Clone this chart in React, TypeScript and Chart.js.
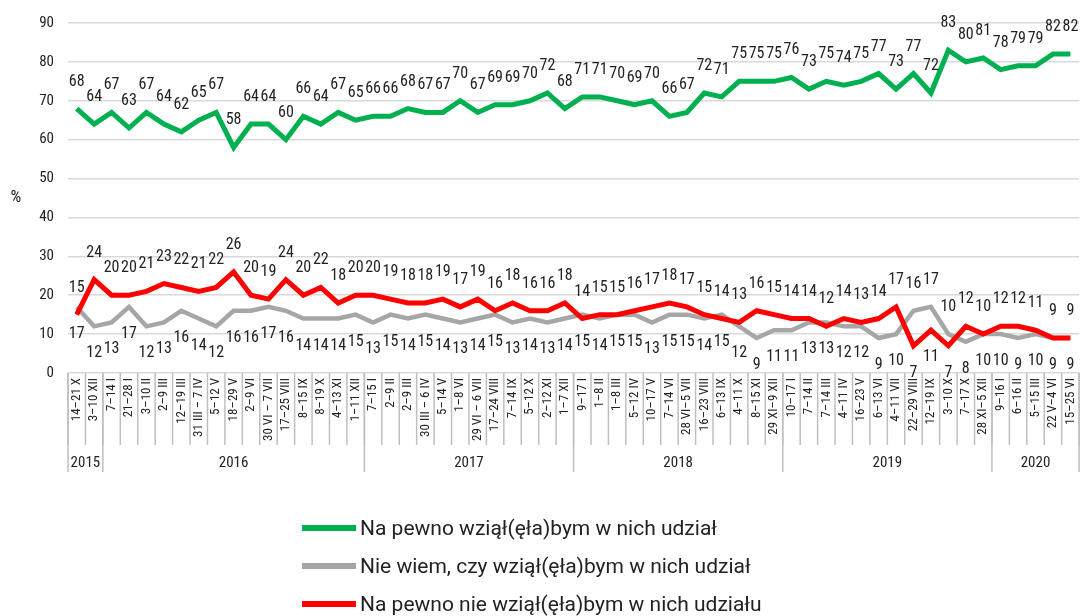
import React, { useEffect, useRef } from "react";
import { Chart, registerables } from "chart.js";

Chart.register(...registerables);

const categories = [
  "14–21 X", "3–10 XII",
  "7–14 I", "21–28 I", "3–10 II", "2–9 III", "12–19 III", "31 III – 7 IV", "5–12 V", "18–29 V", "2–9 VI", "30 VI – 7 VII", "17–25 VIII", "8–15 IX", "8–19 X", "4–13 XI", "1–11 XII",
  "7–15 I", "2–9 II", "2–9 III", "30 III – 6 IV", "5–14 V", "1–8 VI", "29 VI – 6 VII", "17–24 VIII", "7–14 IX", "5–12 X", "2–12 XI", "1–7 XII",
  "9–17 I", "1–8 II", "1–8 III", "5–12 IV", "10–17 V", "7–14 VI", "28 VI–5 VII", "16–23 VIII", "6–13 IX", "4–11 X", "8–15 XI", "29 XI–9 XII",
  "10–17 I", "7–14 II", "7–14 III", "4–11 IV", "16–23 V", "6–13 VI", "4–11 VII", "22–29 VIII", "12–19 IX", "3–10 X", "7–17 X", "28 XI–5 XII",
  "9–16 I", "6–16 II", "5–15 III", "22 V–4 VI", "15–25 VI",
];

const years = ["2015", "2016", "2017", "2018", "2019", "2020"];
const yearCounts = [2, 15, 12, 12, 12, 5];

const definitelyYes = [
  68, 64, 67, 63, 67, 64, 62, 65, 67, 58,
  64, 64, 60, 66, 64, 67, 65, 66, 66, 68,
  67, 67, 70, 67, 69, 69, 70, 72, 68, 71,
  71, 70, 69, 70, 66, 67, 72, 71, 75, 75,
  75, 76, 73, 75, 74, 75, 77, 73, 77, 72,
  83, 80, 81, 78, 79, 79, 82, 82,
];

const dontKnow = [
  17, 12, 13, 17, 12, 13, 16, 14, 12, 16,
  16, 17, 16, 14, 14, 14, 15, 13, 15, 14,
  15, 14, 13, 14, 15, 13, 14, 13, 14, 15,
  14, 15, 15, 13, 15, 15, 14, 15, 12, 9,
  11, 11, 13, 13, 12, 12, 9, 10, 16, 17,
  10, 8, 10, 10, 9, 10, 9, 9,
];

const definitelyNo = [
  15, 24, 20, 20, 21, 23, 22, 21, 22, 26,
  20, 19, 24, 20, 22, 18, 20, 20, 19, 18,
  18, 19, 17, 19, 16, 18, 16, 16, 18, 14,
  15, 15, 16, 17, 18, 17, 15, 14, 13, 16,
  15, 14, 14, 12, 14, 13, 14, 17, 7, 11,
  7, 12, 10, 12, 12, 11, 9, 9,
];

const seriesNames = [
  "Na pewno wziął(ęła)bym w nich udział",
  "Nie wiem, czy wziął(ęła)bym w nich udział",
  "Na pewno nie wziął(ęła)bym w nich udziału",
];
const seriesColors = ["#00b050", "#a6a6a6", "#ff0000"];

const NARROW = '"Roboto Condensed", "Liberation Sans Narrow", "DejaVu Sans Condensed", Roboto, sans-serif';
const TEXT = "#222222";

const decorPlugin = {
  id: "decor",
  afterDatasetsDraw(chart: any) {
    const ctx = chart.ctx;
    ctx.save();
    ctx.font = `16px ${NARROW}`;
    ctx.fillStyle = TEXT;
    ctx.textAlign = "center";
    ctx.textBaseline = "middle";
    chart.data.datasets.forEach((ds: any, di: number) => {
      const meta = chart.getDatasetMeta(di);
      meta.data.forEach((pt: any, i: number) => {
        const swap = dontKnow[i] - definitelyNo[i] > 2;
        let dir = di === 1 ? 1 : -1;
        if (swap && di === 1) dir = -1;
        if (swap && di === 2) dir = 1;
        ctx.fillText(String(ds.data[i]), pt.x, pt.y + dir * 27);
      });
    });
    ctx.restore();
  },
  afterDraw(chart: any) {
    const { ctx, chartArea } = chart;
    const x = chart.scales.x;
    const n = categories.length;
    const step = x.getPixelForValue(1) - x.getPixelForValue(0);
    const edge = (i: number) => x.getPixelForValue(i) - step / 2;
    const bottom = chartArea.bottom;
    ctx.save();
    ctx.strokeStyle = "#bfbfbf";
    ctx.lineWidth = 1.5;
    for (let i = 0; i <= n; i++) {
      const xx = edge(i);
      ctx.beginPath();
      ctx.moveTo(xx, bottom);
      ctx.lineTo(xx, bottom + 72);
      ctx.stroke();
    }
    let acc = 0;
    ctx.font = `15px ${NARROW}`;
    ctx.fillStyle = TEXT;
    ctx.textAlign = "center";
    ctx.textBaseline = "middle";
    const sep = (xx: number) => {
      ctx.beginPath();
      ctx.moveTo(xx, bottom);
      ctx.lineTo(xx, bottom + 99);
      ctx.stroke();
    };
    sep(edge(0));
    years.forEach((yr, k) => {
      const a = edge(acc);
      acc += yearCounts[k];
      const b = edge(acc);
      sep(b);
      ctx.fillText(yr, (a + b) / 2, bottom + 90);
    });
    ctx.font = `17px ${NARROW}`;
    ctx.fillText("%", 16, (chartArea.top + chartArea.bottom) / 2);
    ctx.restore();
  },
};

export default function App() {
  const ref = useRef<HTMLCanvasElement | null>(null);
  useEffect(() => {
    document.body.style.margin = "0";
    const canvas = ref.current;
    if (!canvas) return;
    const chart = new Chart(canvas, {
      type: "line",
      data: {
        labels: categories,
        datasets: [
          { label: seriesNames[0], data: definitelyYes, borderColor: seriesColors[0], backgroundColor: seriesColors[0], borderWidth: 5, pointRadius: 0, tension: 0, order: 0 },
          { label: seriesNames[1], data: dontKnow, borderColor: seriesColors[1], backgroundColor: seriesColors[1], borderWidth: 4.5, pointRadius: 0, tension: 0, order: 2 },
          { label: seriesNames[2], data: definitelyNo, borderColor: seriesColors[2], backgroundColor: seriesColors[2], borderWidth: 5, pointRadius: 0, tension: 0, order: 1 },
        ],
      },
      options: {
        responsive: false,
        animation: false,
        layout: { padding: { top: 20, right: 1, left: 0, bottom: 0 } },
        plugins: { legend: { display: false }, tooltip: { enabled: false } },
        scales: {
          x: {
            offset: true,
            grid: { display: false, drawTicks: false },
            border: { display: false },
            ticks: {
              autoSkip: false,
              maxRotation: 90,
              minRotation: 90,
              padding: 5,
              color: TEXT,
              font: { family: NARROW, size: 13 },
            },
            afterFit: (s: any) => { s.height = 243; },
          },
          y: {
            min: 0,
            max: 90,
            ticks: { stepSize: 10, padding: 14, color: TEXT, font: { family: NARROW, size: 15 } },
            grid: { color: "#d9d9d9", lineWidth: 1.5, drawTicks: false },
            border: { display: false },
            afterFit: (s: any) => { s.width = 68; },
          },
        },
      },
      plugins: [decorPlugin],
    });
    return () => chart.destroy();
  }, []);

  const legendTop = [528, 566, 604];
  return (
    <div style={{ position: "absolute", left: 0, top: 0, width: 1091, height: 616 }}>
      <canvas ref={ref} width={1091} height={616} style={{ display: "block" }} />
      {seriesNames.map((name, i) => (
        <div
          key={name}
          style={{
            position: "absolute",
            left: 302,
            top: legendTop[i] - 15,
            height: 30,
            display: "flex",
            alignItems: "center",
            whiteSpace: "nowrap",
            fontFamily: "Roboto, sans-serif",
            fontSize: 21,
            color: TEXT,
          }}
        >
          <span style={{ display: "inline-block", width: 54, height: 6, background: seriesColors[i], marginRight: 4 }} />
          <span>{name}</span>
        </div>
      ))}
    </div>
  );
}
